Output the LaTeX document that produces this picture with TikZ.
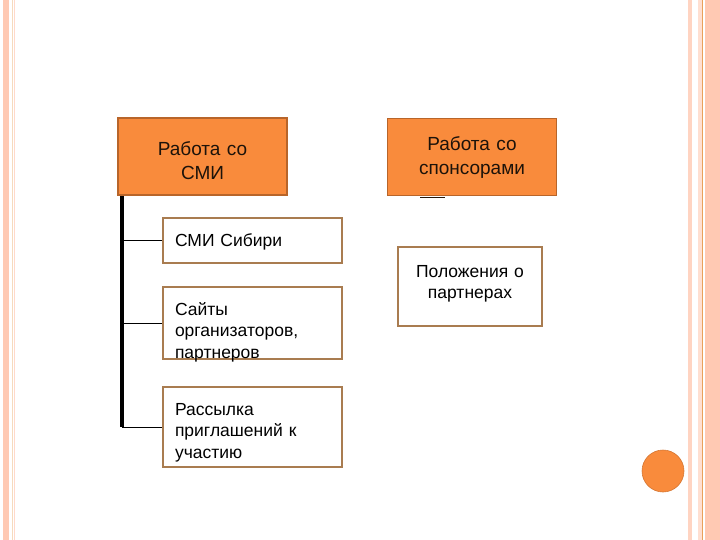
\documentclass[tikz,border=0pt]{standalone}
\usepackage{fontspec}
\setmainfont{Liberation Sans}
\usepackage{xcolor}
\definecolor{boxorange}{HTML}{F98B3C}
\definecolor{boxedge}{HTML}{B8652A}
\definecolor{subedge}{HTML}{A97C50}
\definecolor{stripe}{HTML}{FFC9B3}
\definecolor{stripeline}{HTML}{E8A15A}
\usepackage{tikz}

\begin{document}
\begin{tikzpicture}[x=1pt,y=-1pt,
                    head/.style={draw=boxedge,line width=1.6pt,fill=boxorange,minimum width=169pt,minimum height=77pt,text width=160pt,inner xsep=4pt,inner ysep=0pt,align=center,font=\fontsize{19}{24}\selectfont,text=black!85!brown},
                    sub/.style={draw=subedge,line width=1.6pt,fill=white,minimum width=179pt,text width=155pt,inner xsep=12pt,inner ysep=0pt,align=left,font=\fontsize{17.5}{21.5}\selectfont},
                    trunkline/.style={line width=3.5pt,black},
                    branch/.style={line width=0.9pt,black}]
  \useasboundingbox (0,0) rectangle (720,540);
  % page stripes
  \fill[stripe] (3,0) rectangle (9,540);
  \draw[stripeline!40,line width=0.6pt] (12,0) -- (12,540);
  \draw[stripe!70,line width=0.6pt] (14.5,0) -- (14.5,540);
  \fill[stripe!80] (688,0) rectangle (692,540);
  \fill[stripe!60] (698,0) rectangle (702,540);
  \draw[stripeline,line width=0.8pt] (702.5,0) -- (702.5,540);
  \fill[stripe] (705,0) rectangle (720,540);

  \node[head,text height=38pt,text depth=39pt] (smi) at (202.5,156.5) {Работа со\\СМИ};
  \node[head,text height=32pt,text depth=45pt] (spons) at (472,157) {Работа со\\спонсорами};
  \node[sub,minimum height=45pt,text height=29pt,text depth=16pt] (sib) at (252.5,240.5) {СМИ Сибири};
  \node[sub,minimum height=72pt,text height=28pt,text depth=44pt] (sites) at (252.5,323) {Сайты\\организаторов,\\партнеров};
  \node[sub,minimum height=80pt,text height=28pt,text depth=52pt] (mail) at (252.5,427) {Рассылка\\приглашений к\\участию};
  \node[sub,minimum width=144pt,minimum height=79pt,text width=136pt,inner xsep=4pt,text height=30pt,text depth=49pt,align=center] (pol) at (470,286.5) {Положения о\\партнерах};
  \node[circle,fill=boxorange,draw=boxorange!85!black,line width=0.6pt,minimum size=42pt,inner sep=0pt] (dot) at (663,471) {};

  \coordinate (trunk) at ([xshift=5pt]smi.south west);
  \coordinate (mark) at ([xshift=-52pt,yshift=-1.5pt]spons.south);
  \coordinate (markend) at ([xshift=-27pt,yshift=-1.5pt]spons.south);

  \draw[trunkline] (trunk) -- (trunk |- mail.west);
  \draw[branch] (trunk |- sib.west) -- (sib.west);
  \draw[branch] (trunk |- sites.west) -- (sites.west);
  \draw[branch] (trunk |- mail.west) -- (mail.west);
  \draw[line width=1.2pt,black!80!brown] (mark) -- (markend);
\end{tikzpicture}
\end{document}
